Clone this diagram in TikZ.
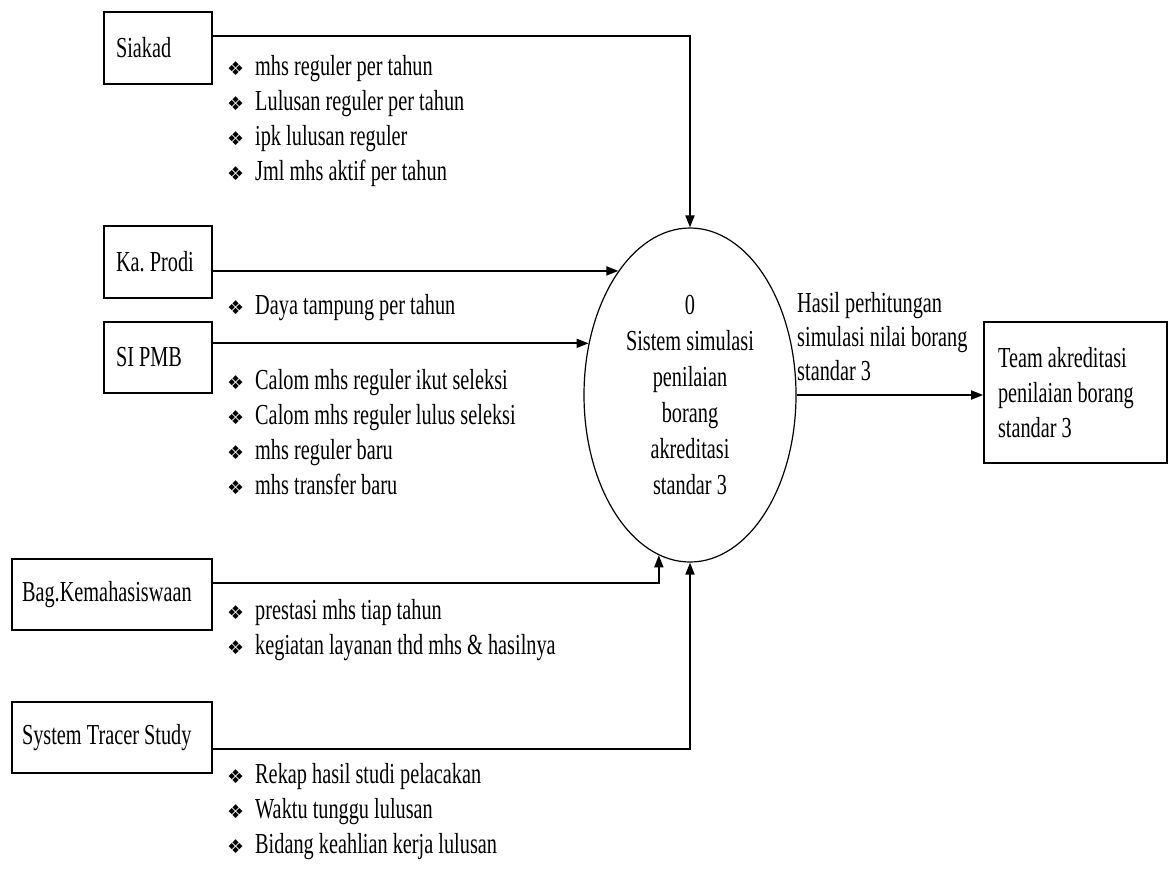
\documentclass[tikz,border=0pt]{standalone}
\usepackage{fontspec}
\setmainfont{Liberation Serif}[FakeStretch=0.7]
\newfontfamily\bulfont{DejaVu Sans}
\usetikzlibrary{arrows.meta,shapes.geometric}
\newcommand{\itm}[1]{\makebox[28pt][l]{\bulfont\fontsize{19}{19}\selectfont ❖}#1}
\begin{document}
\begin{tikzpicture}[x=1pt,y=-1pt,
  every node/.style={font=\fontsize{29}{35}\selectfont,
    execute at begin node={\spaceskip=0pt\xspaceskip=0pt}},
  ext/.style={draw, line width=1.7pt, inner xsep=12pt, inner ysep=0pt, align=left},
  lst/.style={inner sep=0pt, anchor=north west, align=left},
  conn/.style={line width=1.8pt, -{Triangle[length=12pt,width=9pt]}}]
\fill[white] (0,0) rectangle (1169,871);
\useasboundingbox (0,0) rectangle (1169,871);

% external entities
\node[ext, text width=84pt, minimum height=72pt] (siakad) at (158,48) {Siakad};
\node[ext, text width=84pt, minimum height=72pt] (kaprodi) at (158,262) {Ka.\ Prodi};
\node[ext, text width=84pt, minimum height=71pt] (sipmb) at (158,357.5) {SI PMB};
\node[ext, inner xsep=10pt, text width=180pt, minimum height=71pt] (bag) at (112,594.5) {Bag.Kemahasiswaan};
\node[ext, inner xsep=10pt, text width=180pt, minimum height=71pt] (tracer) at (112,737.5) {System Tracer Study};
\node[ext, inner xsep=14pt, text width=155pt, minimum height=141pt] (team) at (1075.5,392.5)
  {Team akreditasi\\penilaian borang\\standar 3};

% process
\node[ellipse, draw, line width=1.2pt, minimum width=212pt, minimum height=334pt,
  inner sep=0pt, align=center, font=\fontsize{29}{36}\selectfont] (proc) at (690,395)
  {0\\Sistem simulasi\\penilaian\\borang\\akreditasi\\standar 3};

% data flow labels
\node[lst] (lsiakad) at (227,50.5) {\strut\itm{mhs reguler per tahun}\\\itm{Lulusan reguler per tahun}\\\itm{ipk lulusan reguler}\\\itm{Jml mhs aktif per tahun}};
\node[lst] (lkaprodi) at (227,289.5) {\strut\itm{Daya tampung per tahun}};
\node[lst] (lsipmb) at (227,364.5) {\strut\itm{Calom mhs reguler ikut seleksi}\\\itm{Calom mhs reguler lulus seleksi}\\\itm{mhs reguler baru}\\\itm{mhs transfer baru}};
\node[lst] (lbag) at (227,594.5) {\strut\itm{prestasi mhs tiap tahun}\\\itm{kegiatan layanan thd mhs \& hasilnya}};
\node[lst] (ltracer) at (227,758.5) {\strut\itm{Rekap hasil studi pelacakan}\\\itm{Waktu tunggu lulusan}\\\itm{Bidang keahlian kerja lulusan}};
\node[lst, font=\fontsize{29}{34}\selectfont] (lhasil) at (797,288) {\strut Hasil perhitungan\\simulasi nilai borang\\standar 3};

% connector levels
\coordinate (ys) at (0,36);
\coordinate (yb) at (0,583);
\coordinate (yt) at (0,749);

% connectors
\draw[conn] (siakad.east |- ys) -| (proc.north);
\draw[conn] (kaprodi.east |- proc.120.44) -- (proc.120.44);
\draw[conn] (sipmb.east |- proc.153.48) -- (proc.153.48);
\draw[conn] (bag.east |- yb) -| (proc.259.38);
\draw[conn] (tracer.east |- yt) -| (proc.south);
\draw[conn] (proc.east) -- (team.west |- proc.east);
\end{tikzpicture}
\end{document}
